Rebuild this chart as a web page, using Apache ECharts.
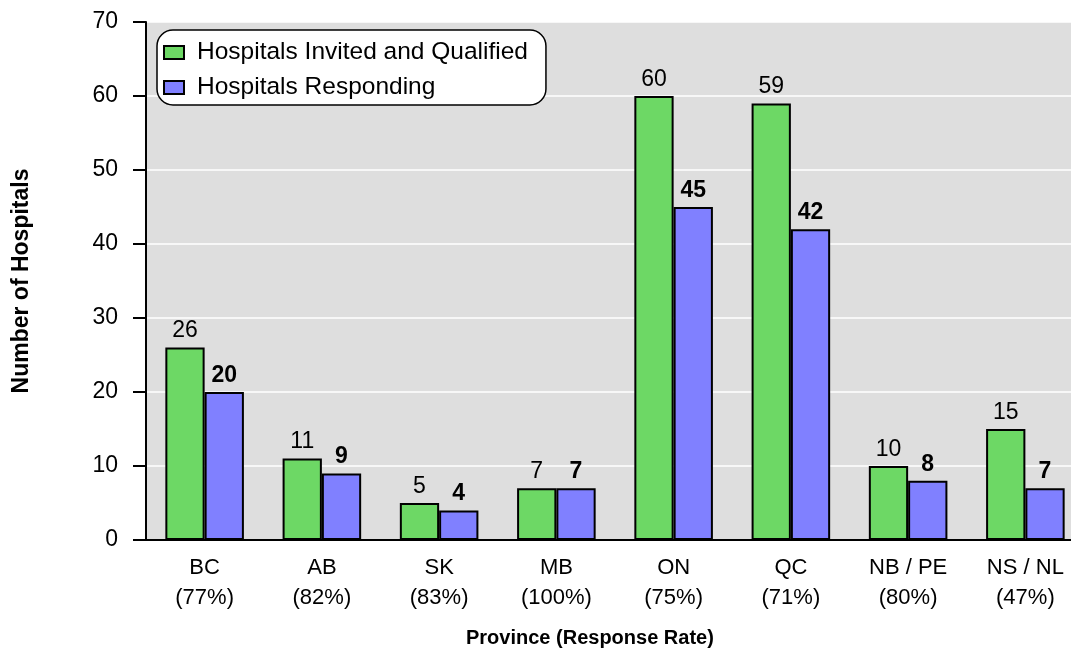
<!DOCTYPE html>
<html>
<head>
<meta charset="utf-8">
<script src="https://cdn.jsdelivr.net/npm/echarts@6/dist/echarts.min.js"></script>
<style>html,body{margin:0;padding:0;background:#fff;}#c{width:1071px;height:650px;}</style>
</head>
<body>
<div id="c"></div>
<script>
const categories = ['BC\n(77%)', 'AB\n(82%)', 'SK\n(83%)', 'MB\n(100%)', 'ON\n(75%)', 'QC\n(71%)', 'NB / PE\n(80%)', 'NS / NL\n(47%)'];
const invitedQualified = [26, 11, 5, 7, 60, 59, 10, 15];
const responding = [20, 9, 4, 7, 45, 42, 8, 7];
const seriesNames = ['Hospitals Invited and Qualified', 'Hospitals Responding'];
const yTicks = { min: 0, max: 70, interval: 10 };

const FONT = 'Liberation Sans, Arial, sans-serif';
const chart = echarts.init(document.getElementById('c'), null, { renderer: 'canvas' });
chart.setOption({
  animation: false,
  backgroundColor: '#ffffff',
  textStyle: { fontFamily: FONT },
  grid: {
    left: 146, top: 22, bottom: 110, right: -13,
    outerBoundsMode: 'none', containLabel: false,
    show: true, backgroundColor: '#dedede', borderWidth: 0
  },
  legend: {
    orient: 'vertical',
    left: 157, top: 30,
    padding: [10, 18, 5, 6],
    backgroundColor: '#ffffff',
    borderColor: '#000000', borderWidth: 1.5, borderRadius: 16,
    itemWidth: 20, itemHeight: 13, itemGap: 10,
    icon: 'rect',
    textStyle: { fontSize: 24.5, color: '#000', fontFamily: FONT, padding: [0, 0, 0, 8], lineHeight: 23 },
    data: seriesNames
  },
  xAxis: {
    type: 'category',
    data: categories,
    axisLine: { lineStyle: { color: '#000', width: 2 } },
    axisTick: { show: false },
    axisLabel: { color: '#000', fontSize: 22, lineHeight: 30, margin: 13, fontFamily: FONT },
    splitLine: { show: false }
  },
  yAxis: {
    type: 'value',
    min: yTicks.min, max: yTicks.max, interval: yTicks.interval,
    name: 'Number of Hospitals',
    nameLocation: 'middle', nameGap: 113, nameRotate: 90,
    nameTextStyle: { fontSize: 23, fontWeight: 'bold', color: '#000', fontFamily: FONT },
    axisLine: { show: true, lineStyle: { color: '#000', width: 2 } },
    axisTick: { show: true, length: 13, lineStyle: { color: '#000', width: 2 } },
    axisLabel: { color: '#000', fontSize: 23, margin: 28, fontFamily: FONT },
    splitLine: { show: true, lineStyle: { color: '#ffffff', width: 1.5 } }
  },
  graphic: [{
    type: 'text', left: 466, top: 628,
    style: { text: 'Province (Response Rate)', fontSize: 20, fontWeight: 'bold', fill: '#000', fontFamily: FONT }
  }],
  series: [
    {
      name: seriesNames[0], type: 'bar', data: invitedQualified,
      barGap: '0%', barCategoryGap: '33%',
      itemStyle: { color: '#6dd865', borderColor: '#000', borderWidth: 2 },
      label: { show: true, position: 'top', distance: 5, color: '#000', fontSize: 23, fontFamily: FONT }
    },
    {
      name: seriesNames[1], type: 'bar', data: responding,
      itemStyle: { color: '#8080ff', borderColor: '#000', borderWidth: 2 },
      label: { show: true, position: 'top', distance: 5, color: '#000', fontSize: 23, fontWeight: 'bold', fontFamily: FONT }
    }
  ]
});
</script>
</body>
</html>
